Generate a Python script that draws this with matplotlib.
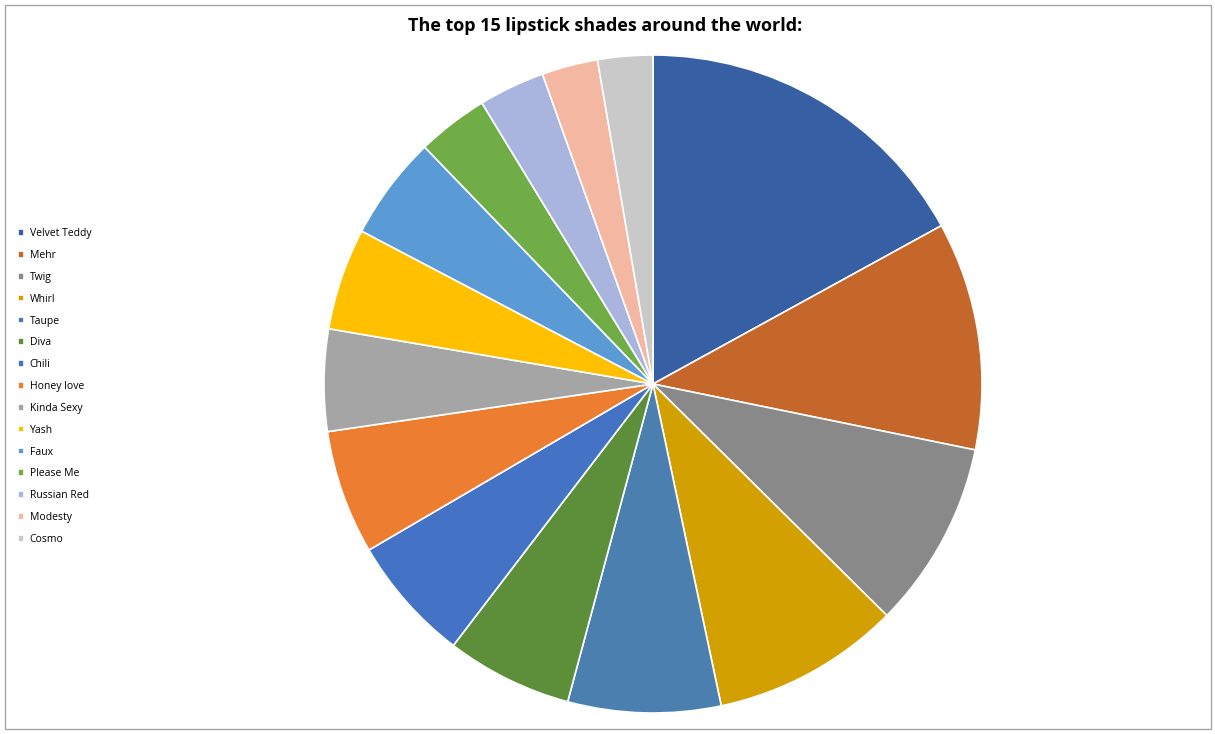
import matplotlib
matplotlib.use("Agg")
import matplotlib.pyplot as plt
from matplotlib.patches import Rectangle

# ---- data (shares, %) -----------------------------------------------------
shades = ["Velvet Teddy", "Mehr", "Twig", "Whirl", "Taupe", "Diva", "Chili",
          "Honey love", "Kinda Sexy", "Yash", "Faux", "Please Me",
          "Russian Red", "Modesty", "Cosmo"]
share = [17.0, 11.2, 9.2, 9.25, 7.5, 6.2, 6.2, 6.1, 5.0, 5.0, 5.1, 3.5,
         3.25, 2.75, 2.7]
colors = ["#375FA3", "#C5662A", "#898989", "#D2A000", "#4A7FB0", "#5D8F3B",
          "#4472C4", "#ED7D31", "#A5A5A5", "#FFC000", "#5B9BD5", "#70AD47",
          "#A9B5DE", "#F4B7A2", "#C9C9C9"]

W, H = 1215, 734
fig = plt.figure(figsize=(W / 100, H / 100), dpi=100)
plt.rcParams["font.family"] = ["Open Sans", "DejaVu Sans"]

# outer chart border
fig.patches.append(Rectangle((5 / W, 5 / H), 1206 / W, 724 / H,
                             transform=fig.transFigure, fill=False,
                             edgecolor="#A6A6A6", lw=1))

cx, cy, r = 653, 384, 329
ax = fig.add_axes([(cx - r) / W, (H - cy - r) / H, 2 * r / W, 2 * r / H])
wedges, _ = ax.pie(share, colors=colors, startangle=90, counterclock=False,
                   radius=1.0,
                   wedgeprops=dict(edgecolor="white", linewidth=1.2))
ax.set_xlim(-1, 1); ax.set_ylim(-1, 1)
ax.set_aspect("equal")

fig.text(605 / W, 1 - 26 / H, "The top 15 lipstick shades around the world:",
         ha="center", va="center", fontsize=13, fontweight="bold")

fig.legend(wedges, shades, loc="upper left",
           bbox_to_anchor=(13 / W, 1 - 223 / H), frameon=False,
           fontsize=7.5, handlelength=0.6, handleheight=0.6,
           handletextpad=0.5, labelspacing=1.04, borderpad=0)

fig.savefig("out.png", dpi=100)
